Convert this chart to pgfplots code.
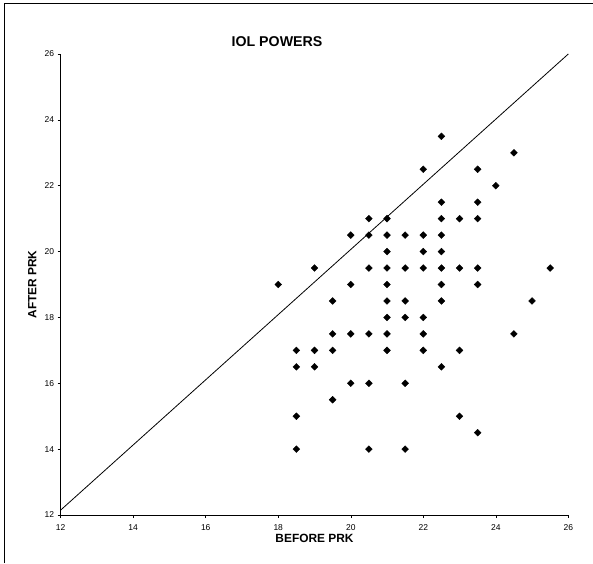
\documentclass[border=0pt]{standalone}
\usepackage{fontspec}
\setmainfont{Liberation Sans}
\usepackage{pgfplots}
\pgfplotsset{compat=1.18}
\usepackage{pgfplotstable}

% IOL powers, before vs after PRK
\pgfplotstableread{
x    y
18   19
19   19.5
22.5 23.5
22   22.5
24.5 23
23.5 22.5
24   22
22.5 21.5
23.5 21.5
20.5 21
21   21
22.5 21
23   21
23.5 21
20   20.5
20.5 20.5
21   20.5
21.5 20.5
22   20.5
22.5 20.5
21   20
22   20
22.5 20
20.5 19.5
21   19.5
21.5 19.5
22   19.5
22.5 19.5
23   19.5
23.5 19.5
25.5 19.5
20   19
21   19
22.5 19
23.5 19
19.5 18.5
21   18.5
21.5 18.5
22.5 18.5
25   18.5
21   18
21.5 18
22   18
19.5 17.5
20   17.5
20.5 17.5
21   17.5
22   17.5
24.5 17.5
18.5 17
19   17
19.5 17
21   17
22   17
23   17
18.5 16.5
19   16.5
22.5 16.5
20   16
20.5 16
21.5 16
19.5 15.5
18.5 15
23   15
23.5 14.5
18.5 14
20.5 14
21.5 14
}\prkdata

\begin{document}
\begin{tikzpicture}[x=1pt,y=1pt]
\useasboundingbox (0,0) rectangle (593,563);
\draw[line width=0.9pt] (4.8,0) -- (4.8,559.4) -- (593,559.4);
\node[font=\bfseries\fontsize{14.2}{16}\selectfont] at (277,521.3) {IOL POWERS};
\begin{axis}[
    at={(60.7pt,48pt)},
    anchor=south west,
    scale only axis,
    width=507.6pt,
    height=461pt,
    xmin=12, xmax=26,
    ymin=12, ymax=26,
    xtick={12,14,...,26},
    ytick={12,14,...,26},
    axis lines=left,
    axis line style={-, line width=0.6pt},
    tick align=outside,
    major tick length=3pt,
    tick style={black, line width=0.5pt},
    ticklabel style={font=\fontsize{8.5}{9}\selectfont},
    xticklabel style={yshift=-3pt},
    /pgf/number format/assume math mode=true,
    xlabel={BEFORE PRK},
    ylabel={AFTER PRK},
    xlabel style={font=\bfseries\fontsize{11.9}{13}\selectfont, at={(axis description cs:0.5,-0.0505)}, anchor=center},
    ylabel style={font=\bfseries\fontsize{11.9}{13}\selectfont, at={(axis description cs:-0.0558,0.5)}, anchor=center},
    clip=false,
]
\addplot[black, line width=0.8pt, no marks] coordinates {(12,12.15) (26,26)};
\addplot[only marks, mark=square*, mark size=2.4pt,
    mark options={rotate=45, fill=black, draw=black}]
    table[x=x, y=y] {\prkdata};
\end{axis}
\end{tikzpicture}
\end{document}
